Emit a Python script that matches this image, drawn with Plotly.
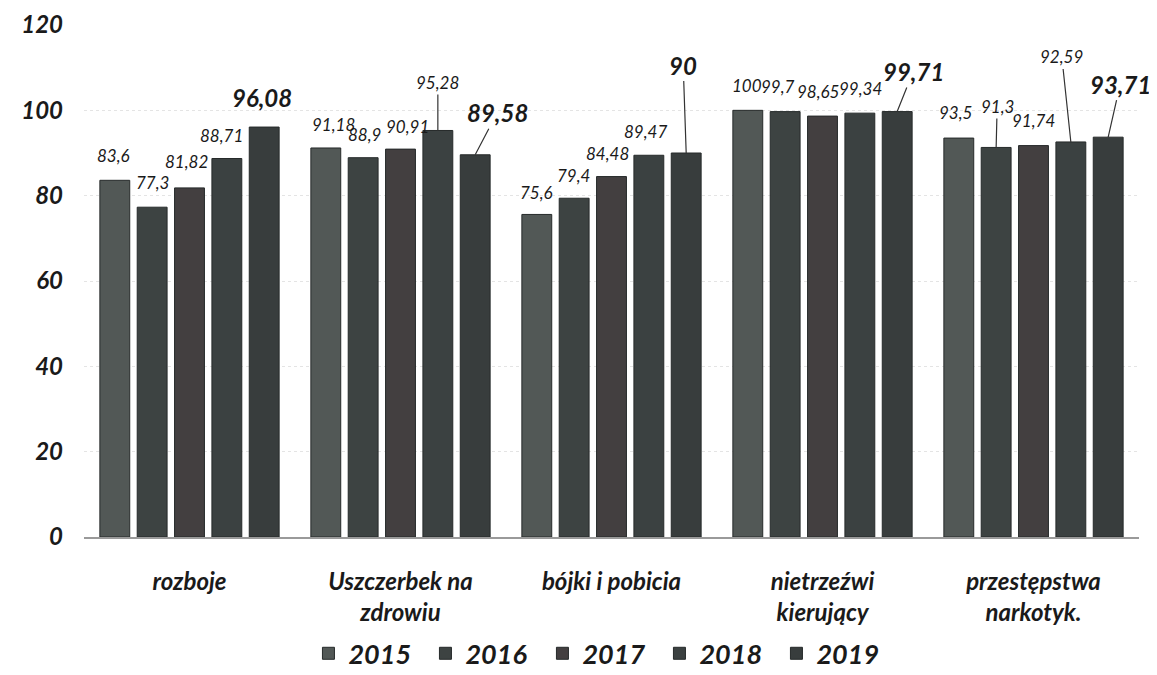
import plotly.graph_objects as go

categories = ["rozboje", "Uszczerbek na<br>zdrowiu", "bójki i pobicia",
              "nietrzeźwi<br>kierujący", "przestępstwa<br>narkotyk."]
years = ["2015", "2016", "2017", "2018", "2019"]
v2015 = [83.6, 91.18, 75.6, 100, 93.5]
v2016 = [77.3, 88.9, 79.4, 99.7, 91.3]
v2017 = [81.82, 90.91, 84.48, 98.65, 91.74]
v2018 = [88.71, 95.28, 89.47, 99.34, 92.59]
v2019 = [96.08, 89.58, 90, 99.71, 93.71]
series = [v2015, v2016, v2017, v2018, v2019]

colors = ["#525856", "#3d4342", "#433f40", "#3b4141", "#383d3d"]
FONT = "Lato, 'Open Sans', sans-serif"

BARGAP = 0.115
GROUPGAP = 0.2

# label placement (pixel offsets from bar top, whether a leader line is drawn)
label_style = [
    [(-1, -25, False), (0, -25, False), (-3, -26, False), (-5, -23, False), (-2, -30, False)],
    [(8, -23, False), (1, -23, False), (7, -23, False), (0, -48, True), (22, -42, True)],
    [(0, -22, False), (-1, -23, False), (-4, -23, False), (-3, -24, False), (-3, -88, True)],
    [(-1, -25, False), (-7, -25, False), (-5, -25, False), (1, -25, False), (16, -40, True)],
    [(-3, -26, False), (1, -41, True), (0, -25, False), (-9, -85, True), (12, -53, True)],
]

fig = go.Figure()
for yi, (yr, vals) in enumerate(zip(years, series)):
    fig.add_trace(go.Bar(
        name=yr, x=list(range(len(categories))), y=vals,
        marker=dict(color=colors[yi], line=dict(color="#262a2a", width=1)),
    ))

slot = (1 - BARGAP) / len(years)
annotations = []
for ci in range(len(categories)):
    for yi, vals in enumerate(series):
        v = vals[ci]
        txt = f"{v:g}".replace(".", ",")
        xpos = ci - (1 - BARGAP) / 2 + slot * (yi + 0.5)
        dx, dy, arrow = label_style[ci][yi]
        bold = yi == 4
        font = dict(family=FONT, size=24 if bold else 17, color="#1a1a1a",
                    style="italic", weight="bold" if bold else "normal")
        if arrow:
            annotations.append(dict(x=xpos, y=v, xref="x", yref="y", text=txt,
                                    showarrow=True, ax=dx, ay=dy, arrowhead=0,
                                    arrowwidth=1.2, arrowcolor="#333", standoff=0,
                                    font=font))
        else:
            annotations.append(dict(x=xpos, y=v, xref="x", yref="y", text=txt,
                                    showarrow=False, xshift=dx, yshift=-dy,
                                    xanchor="center", yanchor="middle", font=font))

fig.update_layout(
    width=1149, height=667,
    margin=dict(l=76, r=18, t=17, b=138, autoexpand=False),
    paper_bgcolor="white", plot_bgcolor="white",
    barmode="group", bargap=BARGAP, bargroupgap=GROUPGAP,
    showlegend=True,
    legend=dict(orientation="h", x=0.49, xanchor="center", y=-0.228, yanchor="middle",
                font=dict(family=FONT, size=27, color="#1a1a1a", style="italic", weight="bold"),
                itemwidth=30, entrywidth=72, entrywidthmode="pixels", traceorder="normal"),
    annotations=annotations,
    xaxis=dict(tickmode="array", tickvals=list(range(len(categories))), ticktext=categories,
               range=[-0.5, len(categories) - 0.5],
               tickfont=dict(family=FONT, size=24, color="#1a1a1a", style="italic", weight="bold"),
               showline=True, linecolor="#9a9a9a", linewidth=1.5, ticks="",
               showgrid=False, ticklabelstandoff=22),
    yaxis=dict(range=[0, 120], dtick=20, tick0=0,
               tickfont=dict(family=FONT, size=24, color="#1a1a1a", style="italic", weight="bold"),
               showgrid=True, gridcolor="#e4e4e4", griddash="dot", gridwidth=1,
               zeroline=False, showline=False, ticklabelstandoff=20),
)

fig.write_html("out.html")
